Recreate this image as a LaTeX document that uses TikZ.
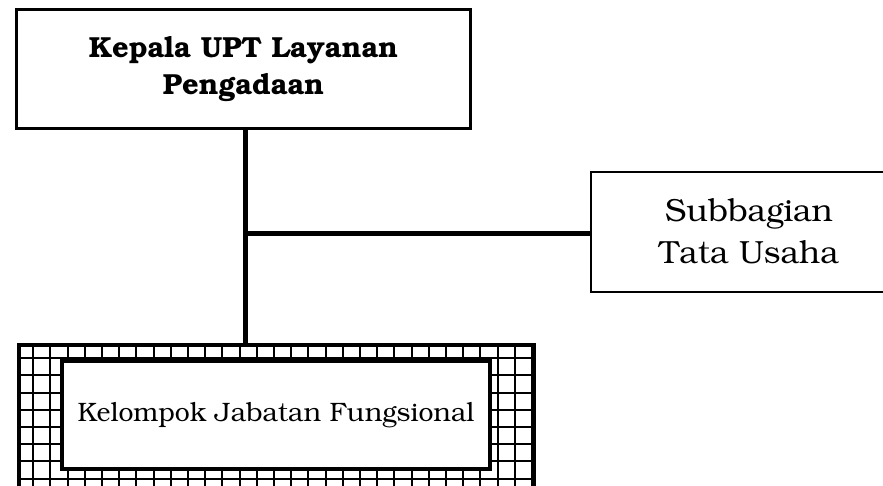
\documentclass[tikz,border=0pt]{standalone}
\usepackage[T1]{fontenc}
\usepackage{bookman}
\begin{document}
\begin{tikzpicture}[x=1pt,y=-1pt,
  unitbox/.style={draw, fill=white, align=center, inner sep=0pt, outer sep=0pt},
  conn/.style={line width=5pt},
  gridline/.style={line width=1.9pt}]
\useasboundingbox (0,0) rectangle (883,485);
\clip (0,0) rectangle (883,485);

% head of the unit
\node[unitbox, line width=3pt, minimum width=454pt, minimum height=118.5pt,
      font=\fontsize{29}{37}\selectfont\bfseries] (top) at (243.5,69)
  {Kepala UPT Layanan\\Pengadaan};

% administrative subdivision (runs past the right edge)
\node[unitbox, line width=1.5pt, minimum width=316pt, minimum height=120pt,
      font=\fontsize{32}{42}\selectfont] (sub) at (749,232)
  {Subbagian\\Tata Usaha};

% outer hatched frame of the functional group
\node[draw, line width=4pt, minimum width=515pt, minimum height=180pt,
      inner sep=0pt, outer sep=0pt, anchor=north west] (frame) at (19,345) {};
\begin{scope}
  \clip (frame.north west) rectangle (frame.south east);
  \draw[gridline, step=17.2pt, shift={(16,341)}] (-20,-20) grid (540,180);
\end{scope}
\node[draw, line width=4pt, minimum width=515pt, minimum height=180pt,
      inner sep=0pt, outer sep=0pt, anchor=north west] at (19,345) {};

% inner box of the functional group
\node[unitbox, line width=4pt, minimum width=428pt, minimum height=108pt,
      font=\fontsize{26.6}{30}\selectfont] (kjf) at (276,415)
  {Kelompok Jabatan Fungsional};

% connectors
\coordinate (j) at (245.5,233);
\draw[conn] (top.south -| j) -- (frame.north -| j);
\draw[conn] (j) -- (sub.west |- j);
\end{tikzpicture}
\end{document}
